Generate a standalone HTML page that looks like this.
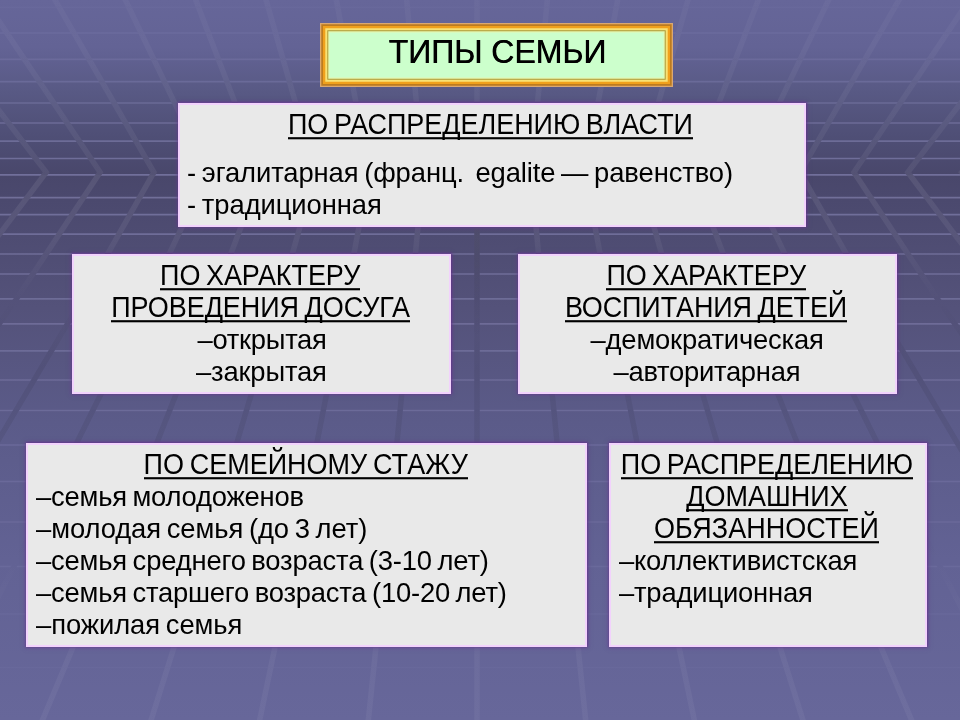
<!DOCTYPE html>
<html lang="ru">
<head>
<meta charset="utf-8">
<title>ТИПЫ СЕМЬИ</title>
<style>
html,body{margin:0;padding:0;}
body{width:960px;height:720px;overflow:hidden;background:#5a598a;position:relative;font-family:"Liberation Sans",sans-serif;}
.bg{position:absolute;left:0;top:0;display:block;}
.box{position:absolute;box-sizing:border-box;background:#e9e9e9;border:2.5px solid #f2d2fd;box-shadow:0 -1px 2px 0.5px rgba(100,50,140,.7),0 0 4px 1px rgba(110,60,150,.5);}
.title{position:absolute;box-sizing:border-box;background:#ccffcc;box-shadow:inset 0 0 0 1.3px #dba870, inset 0 0 0 3px #bd7b1e, inset 0 0 0 5.3px #f0a01c, inset 0 0 0 7.3px #f8e174, inset 0 0 0 8.3px #a89a3c, inset 0 0 0 9.5px #e6f8b0;}
.t{position:absolute;white-space:pre;font-size:27.0px;line-height:32px;color:#000;}
.txt{position:absolute;left:0;top:0;width:960px;height:720px;will-change:transform;}
.tt{text-shadow:0.5px 0 0 #000;}
.ul{position:absolute;left:0;background:#000;display:block;}
</style>
</head>
<body>
<svg class="bg" width="960" height="720" viewBox="0 0 960 720">
<defs>
<linearGradient id="g" gradientUnits="userSpaceOnUse" x1="0" y1="0" x2="0" y2="720">
<stop offset="0.0000" stop-color="#666699"/>
<stop offset="0.0653" stop-color="#636395"/>
<stop offset="0.1278" stop-color="#585984"/>
<stop offset="0.1875" stop-color="#4f4f76"/>
<stop offset="0.2431" stop-color="#49476b"/>
<stop offset="0.2778" stop-color="#4b496e"/>
<stop offset="0.4278" stop-color="#54527a"/>
<stop offset="0.5861" stop-color="#5b5b89"/>
<stop offset="0.7778" stop-color="#626294"/>
<stop offset="1.0000" stop-color="#67679a"/>
</linearGradient>
</defs>
<rect width="960" height="720" fill="url(#g)"/>
<line x1="0" y1="158.5" x2="960" y2="158.5" stroke="#8f8dbd" stroke-opacity="0.533" stroke-width="1.7"/>
<line x1="0" y1="141.2" x2="960" y2="141.2" stroke="#8f8dbd" stroke-opacity="0.483" stroke-width="1.7"/>
<line x1="0" y1="123.0" x2="960" y2="123.0" stroke="#8f8dbd" stroke-opacity="0.430" stroke-width="1.7"/>
<line x1="0" y1="103.0" x2="960" y2="103.0" stroke="#8f8dbd" stroke-opacity="0.372" stroke-width="1.7"/>
<line x1="0" y1="81.7" x2="960" y2="81.7" stroke="#8f8dbd" stroke-opacity="0.310" stroke-width="1.7"/>
<line x1="0" y1="59.4" x2="960" y2="59.4" stroke="#8f8dbd" stroke-opacity="0.245" stroke-width="1.7"/>
<line x1="0" y1="33.0" x2="960" y2="33.0" stroke="#8f8dbd" stroke-opacity="0.169" stroke-width="1.7"/>
<line x1="0" y1="7.3" x2="960" y2="7.3" stroke="#8f8dbd" stroke-opacity="0.094" stroke-width="1.7"/>
<line x1="0" y1="174.8" x2="960" y2="174.8" stroke="#8f8dbd" stroke-opacity="0.580" stroke-width="1.7"/>
<line x1="0" y1="197.6" x2="960" y2="197.6" stroke="#8f8dbd" stroke-opacity="0.556" stroke-width="1.7"/>
<line x1="0" y1="214.6" x2="960" y2="214.6" stroke="#8f8dbd" stroke-opacity="0.538" stroke-width="1.7"/>
<line x1="0" y1="234.2" x2="960" y2="234.2" stroke="#8f8dbd" stroke-opacity="0.518" stroke-width="1.7"/>
<line x1="0" y1="254.0" x2="960" y2="254.0" stroke="#8f8dbd" stroke-opacity="0.497" stroke-width="1.7"/>
<line x1="0" y1="274.0" x2="960" y2="274.0" stroke="#8f8dbd" stroke-opacity="0.476" stroke-width="1.7"/>
<line x1="0" y1="298.9" x2="960" y2="298.9" stroke="#8f8dbd" stroke-opacity="0.450" stroke-width="1.7"/>
<line x1="0" y1="323.9" x2="960" y2="323.9" stroke="#8f8dbd" stroke-opacity="0.423" stroke-width="1.7"/>
<line x1="0" y1="350.8" x2="960" y2="350.8" stroke="#8f8dbd" stroke-opacity="0.395" stroke-width="1.7"/>
<line x1="0" y1="380.0" x2="960" y2="380.0" stroke="#8f8dbd" stroke-opacity="0.365" stroke-width="1.7"/>
<line x1="0" y1="410.5" x2="960" y2="410.5" stroke="#8f8dbd" stroke-opacity="0.333" stroke-width="1.7"/>
<line x1="0" y1="445.0" x2="960" y2="445.0" stroke="#8f8dbd" stroke-opacity="0.296" stroke-width="1.7"/>
<line x1="0" y1="481.5" x2="960" y2="481.5" stroke="#8f8dbd" stroke-opacity="0.258" stroke-width="1.7"/>
<line x1="0" y1="522.0" x2="960" y2="522.0" stroke="#8f8dbd" stroke-opacity="0.215" stroke-width="1.7"/>
<line x1="0" y1="566.5" x2="960" y2="566.5" stroke="#8f8dbd" stroke-opacity="0.169" stroke-width="1.7"/>
<line x1="0" y1="614.0" x2="960" y2="614.0" stroke="#8f8dbd" stroke-opacity="0.119" stroke-width="1.7"/>
<line x1="0" y1="667.5" x2="960" y2="667.5" stroke="#8f8dbd" stroke-opacity="0.080" stroke-width="1.7"/>
<clipPath id="cu"><rect x="0" y="0" width="960" height="174.8"/></clipPath><clipPath id="cd"><rect x="0" y="174.8" width="960" height="545.2"/></clipPath>
<g stroke="url(#g)" stroke-width="5.5" fill="none" stroke-linejoin="miter"><polyline points="-520.9,-10 -276.9,172.3 -445.6,300 -653.5,450 -867.7,600 -1058.5,730"/><polyline points="-449.6,-10 -223.1,172.3 -379.7,300 -572.8,450 -771.7,600 -948.8,730"/><polyline points="-378.3,-10 -169.2,172.3 -313.8,300 -492.0,450 -675.6,600 -839.1,730"/><polyline points="-307.1,-10 -115.4,172.3 -247.9,300 -411.3,450 -579.6,600 -729.4,730"/><polyline points="-235.8,-10 -61.5,172.3 -182.0,300 -330.5,450 -483.5,600 -619.8,730"/><polyline points="-164.5,-10 -7.7,172.3 -116.1,300 -249.8,450 -387.5,600 -510.1,730"/><polyline points="-93.2,-10 46.2,172.3 -50.2,300 -169.0,450 -291.4,600 -400.4,730"/><polyline points="-21.9,-10 100.1,172.3 15.7,300 -88.3,450 -195.4,600 -290.7,730"/><polyline points="49.3,-10 153.9,172.3 81.6,300 -7.5,450 -99.3,600 -181.1,730"/><polyline points="120.6,-10 207.8,172.3 147.5,300 73.2,450 -3.3,600 -71.4,730"/><polyline points="191.9,-10 261.6,172.3 213.4,300 154.0,450 92.8,600 38.3,730"/><polyline points="263.2,-10 315.4,172.3 279.3,300 234.7,450 188.8,600 148.0,730"/><polyline points="334.4,-10 369.3,172.3 345.2,300 315.5,450 284.9,600 257.6,730"/><polyline points="405.7,-10 423.1,172.3 411.1,300 396.2,450 380.9,600 367.3,730"/><polyline points="477.0,-10 477.0,172.3 477.0,300 477.0,450 477.0,600 477.0,730"/><polyline points="548.3,-10 530.9,172.3 542.9,300 557.8,450 573.1,600 586.7,730"/><polyline points="619.6,-10 584.7,172.3 608.8,300 638.5,450 669.1,600 696.4,730"/><polyline points="690.8,-10 638.5,172.3 674.7,300 719.3,450 765.2,600 806.0,730"/><polyline points="762.1,-10 692.4,172.3 740.6,300 800.0,450 861.2,600 915.7,730"/><polyline points="833.4,-10 746.2,172.3 806.5,300 880.8,450 957.3,600 1025.4,730"/><polyline points="904.7,-10 800.1,172.3 872.4,300 961.5,450 1053.3,600 1135.1,730"/><polyline points="975.9,-10 854.0,172.3 938.3,300 1042.3,450 1149.4,600 1244.7,730"/><polyline points="1047.2,-10 907.8,172.3 1004.2,300 1123.0,450 1245.4,600 1354.4,730"/><polyline points="1118.5,-10 961.7,172.3 1070.1,300 1203.8,450 1341.5,600 1464.1,730"/><polyline points="1189.8,-10 1015.5,172.3 1136.0,300 1284.5,450 1437.5,600 1573.8,730"/><polyline points="1261.1,-10 1069.3,172.3 1201.9,300 1365.3,450 1533.6,600 1683.4,730"/><polyline points="1332.3,-10 1123.2,172.3 1267.8,300 1446.0,450 1629.6,600 1793.1,730"/><polyline points="1403.6,-10 1177.1,172.3 1333.7,300 1526.8,450 1725.7,600 1902.8,730"/><polyline points="1474.9,-10 1230.9,172.3 1399.6,300 1607.5,450 1821.7,600 2012.5,730"/></g>
<linearGradient id="bu" gradientUnits="userSpaceOnUse" x1="0" y1="0" x2="0" y2="174.8"><stop offset="0" stop-color="#fff" stop-opacity="0.03"/><stop offset="0.45" stop-color="#fff" stop-opacity="0.045"/><stop offset="1" stop-color="#fff" stop-opacity="0.06"/></linearGradient>
<linearGradient id="bd" gradientUnits="userSpaceOnUse" x1="0" y1="174.8" x2="0" y2="720"><stop offset="0.0000" stop-color="#fff" stop-opacity="0.08"/><stop offset="0.1104" stop-color="#fff" stop-opacity="0.06"/><stop offset="0.2296" stop-color="#fff" stop-opacity="0.0"/><stop offset="0.2298" stop-color="#000" stop-opacity="0.0"/><stop offset="0.3580" stop-color="#000" stop-opacity="0.07"/><stop offset="0.5048" stop-color="#000" stop-opacity="0.07"/><stop offset="0.7065" stop-color="#000" stop-opacity="0.0"/><stop offset="0.7067" stop-color="#fff" stop-opacity="0.0"/><stop offset="0.8899" stop-color="#fff" stop-opacity="0.045"/><stop offset="1.0000" stop-color="#fff" stop-opacity="0.045"/></linearGradient>
<g clip-path="url(#cu)"><g stroke="url(#bu)" stroke-width="5.5" fill="none" stroke-linejoin="miter"><polyline points="-520.9,-10 -276.9,172.3 -445.6,300 -653.5,450 -867.7,600 -1058.5,730"/><polyline points="-449.6,-10 -223.1,172.3 -379.7,300 -572.8,450 -771.7,600 -948.8,730"/><polyline points="-378.3,-10 -169.2,172.3 -313.8,300 -492.0,450 -675.6,600 -839.1,730"/><polyline points="-307.1,-10 -115.4,172.3 -247.9,300 -411.3,450 -579.6,600 -729.4,730"/><polyline points="-235.8,-10 -61.5,172.3 -182.0,300 -330.5,450 -483.5,600 -619.8,730"/><polyline points="-164.5,-10 -7.7,172.3 -116.1,300 -249.8,450 -387.5,600 -510.1,730"/><polyline points="-93.2,-10 46.2,172.3 -50.2,300 -169.0,450 -291.4,600 -400.4,730"/><polyline points="-21.9,-10 100.1,172.3 15.7,300 -88.3,450 -195.4,600 -290.7,730"/><polyline points="49.3,-10 153.9,172.3 81.6,300 -7.5,450 -99.3,600 -181.1,730"/><polyline points="120.6,-10 207.8,172.3 147.5,300 73.2,450 -3.3,600 -71.4,730"/><polyline points="191.9,-10 261.6,172.3 213.4,300 154.0,450 92.8,600 38.3,730"/><polyline points="263.2,-10 315.4,172.3 279.3,300 234.7,450 188.8,600 148.0,730"/><polyline points="334.4,-10 369.3,172.3 345.2,300 315.5,450 284.9,600 257.6,730"/><polyline points="405.7,-10 423.1,172.3 411.1,300 396.2,450 380.9,600 367.3,730"/><polyline points="477.0,-10 477.0,172.3 477.0,300 477.0,450 477.0,600 477.0,730"/><polyline points="548.3,-10 530.9,172.3 542.9,300 557.8,450 573.1,600 586.7,730"/><polyline points="619.6,-10 584.7,172.3 608.8,300 638.5,450 669.1,600 696.4,730"/><polyline points="690.8,-10 638.5,172.3 674.7,300 719.3,450 765.2,600 806.0,730"/><polyline points="762.1,-10 692.4,172.3 740.6,300 800.0,450 861.2,600 915.7,730"/><polyline points="833.4,-10 746.2,172.3 806.5,300 880.8,450 957.3,600 1025.4,730"/><polyline points="904.7,-10 800.1,172.3 872.4,300 961.5,450 1053.3,600 1135.1,730"/><polyline points="975.9,-10 854.0,172.3 938.3,300 1042.3,450 1149.4,600 1244.7,730"/><polyline points="1047.2,-10 907.8,172.3 1004.2,300 1123.0,450 1245.4,600 1354.4,730"/><polyline points="1118.5,-10 961.7,172.3 1070.1,300 1203.8,450 1341.5,600 1464.1,730"/><polyline points="1189.8,-10 1015.5,172.3 1136.0,300 1284.5,450 1437.5,600 1573.8,730"/><polyline points="1261.1,-10 1069.3,172.3 1201.9,300 1365.3,450 1533.6,600 1683.4,730"/><polyline points="1332.3,-10 1123.2,172.3 1267.8,300 1446.0,450 1629.6,600 1793.1,730"/><polyline points="1403.6,-10 1177.1,172.3 1333.7,300 1526.8,450 1725.7,600 1902.8,730"/><polyline points="1474.9,-10 1230.9,172.3 1399.6,300 1607.5,450 1821.7,600 2012.5,730"/></g></g>
<g clip-path="url(#cd)"><g stroke="url(#bd)" stroke-width="5.5" fill="none" stroke-linejoin="miter"><polyline points="-520.9,-10 -276.9,172.3 -445.6,300 -653.5,450 -867.7,600 -1058.5,730"/><polyline points="-449.6,-10 -223.1,172.3 -379.7,300 -572.8,450 -771.7,600 -948.8,730"/><polyline points="-378.3,-10 -169.2,172.3 -313.8,300 -492.0,450 -675.6,600 -839.1,730"/><polyline points="-307.1,-10 -115.4,172.3 -247.9,300 -411.3,450 -579.6,600 -729.4,730"/><polyline points="-235.8,-10 -61.5,172.3 -182.0,300 -330.5,450 -483.5,600 -619.8,730"/><polyline points="-164.5,-10 -7.7,172.3 -116.1,300 -249.8,450 -387.5,600 -510.1,730"/><polyline points="-93.2,-10 46.2,172.3 -50.2,300 -169.0,450 -291.4,600 -400.4,730"/><polyline points="-21.9,-10 100.1,172.3 15.7,300 -88.3,450 -195.4,600 -290.7,730"/><polyline points="49.3,-10 153.9,172.3 81.6,300 -7.5,450 -99.3,600 -181.1,730"/><polyline points="120.6,-10 207.8,172.3 147.5,300 73.2,450 -3.3,600 -71.4,730"/><polyline points="191.9,-10 261.6,172.3 213.4,300 154.0,450 92.8,600 38.3,730"/><polyline points="263.2,-10 315.4,172.3 279.3,300 234.7,450 188.8,600 148.0,730"/><polyline points="334.4,-10 369.3,172.3 345.2,300 315.5,450 284.9,600 257.6,730"/><polyline points="405.7,-10 423.1,172.3 411.1,300 396.2,450 380.9,600 367.3,730"/><polyline points="477.0,-10 477.0,172.3 477.0,300 477.0,450 477.0,600 477.0,730"/><polyline points="548.3,-10 530.9,172.3 542.9,300 557.8,450 573.1,600 586.7,730"/><polyline points="619.6,-10 584.7,172.3 608.8,300 638.5,450 669.1,600 696.4,730"/><polyline points="690.8,-10 638.5,172.3 674.7,300 719.3,450 765.2,600 806.0,730"/><polyline points="762.1,-10 692.4,172.3 740.6,300 800.0,450 861.2,600 915.7,730"/><polyline points="833.4,-10 746.2,172.3 806.5,300 880.8,450 957.3,600 1025.4,730"/><polyline points="904.7,-10 800.1,172.3 872.4,300 961.5,450 1053.3,600 1135.1,730"/><polyline points="975.9,-10 854.0,172.3 938.3,300 1042.3,450 1149.4,600 1244.7,730"/><polyline points="1047.2,-10 907.8,172.3 1004.2,300 1123.0,450 1245.4,600 1354.4,730"/><polyline points="1118.5,-10 961.7,172.3 1070.1,300 1203.8,450 1341.5,600 1464.1,730"/><polyline points="1189.8,-10 1015.5,172.3 1136.0,300 1284.5,450 1437.5,600 1573.8,730"/><polyline points="1261.1,-10 1069.3,172.3 1201.9,300 1365.3,450 1533.6,600 1683.4,730"/><polyline points="1332.3,-10 1123.2,172.3 1267.8,300 1446.0,450 1629.6,600 1793.1,730"/><polyline points="1403.6,-10 1177.1,172.3 1333.7,300 1526.8,450 1725.7,600 1902.8,730"/><polyline points="1474.9,-10 1230.9,172.3 1399.6,300 1607.5,450 1821.7,600 2012.5,730"/></g></g>
<linearGradient id="bc" gradientUnits="userSpaceOnUse" x1="0" y1="174.8" x2="0" y2="720"><stop offset="0" stop-color="#000" stop-opacity="0.12"/><stop offset="0.15" stop-color="#000" stop-opacity="0.11"/><stop offset="0.3" stop-color="#000" stop-opacity="0"/></linearGradient>
<path d="M477.0 174.8L477.01 720" stroke="url(#bc)" stroke-width="5.5" fill="none"/>
</svg>
<div class="box" style="left:178px;top:103px;width:628px;height:124px"></div>
<div class="box" style="left:72px;top:254px;width:379px;height:140px"></div>
<div class="box" style="left:518px;top:254px;width:379px;height:140px"></div>
<div class="box" style="left:26px;top:443px;width:561px;height:204px"></div>
<div class="box" style="left:609px;top:443px;width:318px;height:204px"></div>
<div class="txt">
<div class="title" style="left:320px;top:23px;width:353px;height:64px"></div>
<div class="t tt" style="left:388.56px;top:35.91px;word-spacing:-0.195px;transform:scaleY(1.05);transform-origin:0 27.09px;font-size:32px;">ТИПЫ СЕМЬИ</div>
<div class="t" style="left:288.00px;top:109.14px;word-spacing:-1.800px;letter-spacing:-0.040px;transform:scaleY(1.066);transform-origin:0 25.36px;">ПО РАСПРЕДЕЛЕНИЮ ВЛАСТИ<i class="ul" style="top:28.03px;height:1.88px;width:405.00px"></i></div>
<div class="t" style="left:187.10px;top:156.51px;word-spacing:-1.800px;letter-spacing:-0.103px;transform:scaleY(1.04);transform-origin:0 25.49px;font-size:27.4px;">- эгалитарная (франц.  egalite — равенство)</div>
<div class="t" style="left:187.10px;top:188.51px;word-spacing:-1.800px;letter-spacing:-0.080px;transform:scaleY(1.04);transform-origin:0 25.49px;font-size:27.4px;">- традиционная</div>
<div class="t" style="left:160.10px;top:260.14px;word-spacing:-1.800px;letter-spacing:-0.082px;transform:scaleY(1.066);transform-origin:0 25.36px;">ПО ХАРАКТЕРУ<i class="ul" style="top:28.03px;height:1.88px;width:200.20px"></i></div>
<div class="t" style="left:111.20px;top:292.14px;word-spacing:-1.800px;letter-spacing:-0.079px;transform:scaleY(1.066);transform-origin:0 25.36px;">ПРОВЕДЕНИЯ ДОСУГА<i class="ul" style="top:28.03px;height:1.88px;width:298.80px"></i></div>
<div class="t" style="left:197.46px;top:324.01px;letter-spacing:-0.269px;transform:scaleY(1.04);transform-origin:0 25.49px;font-size:27.4px;">–открытая</div>
<div class="t" style="left:196.02px;top:356.01px;letter-spacing:-0.171px;transform:scaleY(1.04);transform-origin:0 25.49px;font-size:27.4px;">–закрытая</div>
<div class="t" style="left:606.40px;top:260.14px;word-spacing:-1.800px;letter-spacing:-0.125px;transform:scaleY(1.066);transform-origin:0 25.36px;">ПО ХАРАКТЕРУ<i class="ul" style="top:28.03px;height:1.88px;width:199.70px"></i></div>
<div class="t" style="left:564.90px;top:292.14px;word-spacing:-1.800px;letter-spacing:-0.138px;transform:scaleY(1.066);transform-origin:0 25.36px;">ВОСПИТАНИЯ ДЕТЕЙ<i class="ul" style="top:28.03px;height:1.88px;width:282.20px"></i></div>
<div class="t" style="left:590.48px;top:324.01px;letter-spacing:-0.180px;transform:scaleY(1.04);transform-origin:0 25.49px;font-size:27.4px;">–демократическая</div>
<div class="t" style="left:613.48px;top:356.01px;letter-spacing:-0.277px;transform:scaleY(1.04);transform-origin:0 25.49px;font-size:27.4px;">–авторитарная</div>
<div class="t" style="left:143.60px;top:449.14px;word-spacing:-1.800px;transform:scaleY(1.066);transform-origin:0 25.36px;">ПО СЕМЕЙНОМУ СТАЖУ<i class="ul" style="top:28.03px;height:1.88px;width:324.20px"></i></div>
<div class="t" style="left:36.00px;top:481.01px;word-spacing:-1.800px;letter-spacing:-0.217px;transform:scaleY(1.04);transform-origin:0 25.49px;font-size:27.4px;">–семья молодоженов</div>
<div class="t" style="left:36.00px;top:513.01px;word-spacing:-1.800px;letter-spacing:-0.083px;transform:scaleY(1.04);transform-origin:0 25.49px;font-size:27.4px;">–молодая семья (до 3 лет)</div>
<div class="t" style="left:36.00px;top:545.01px;word-spacing:-1.800px;letter-spacing:-0.183px;transform:scaleY(1.04);transform-origin:0 25.49px;font-size:27.4px;">–семья среднего возраста (3-10 лет)</div>
<div class="t" style="left:36.00px;top:577.01px;word-spacing:-1.800px;letter-spacing:-0.205px;transform:scaleY(1.04);transform-origin:0 25.49px;font-size:27.4px;">–семья старшего возраста (10-20 лет)</div>
<div class="t" style="left:36.00px;top:609.01px;word-spacing:-1.800px;letter-spacing:-0.079px;transform:scaleY(1.04);transform-origin:0 25.49px;font-size:27.4px;">–пожилая семья</div>
<div class="t" style="left:620.80px;top:449.14px;word-spacing:-1.800px;letter-spacing:-0.049px;transform:scaleY(1.066);transform-origin:0 25.36px;">ПО РАСПРЕДЕЛЕНИЮ<i class="ul" style="top:28.03px;height:1.88px;width:292.10px"></i></div>
<div class="t" style="left:686.20px;top:481.14px;letter-spacing:0.020px;transform:scaleY(1.066);transform-origin:0 25.36px;">ДОМАШНИХ<i class="ul" style="top:28.03px;height:1.88px;width:161.60px"></i></div>
<div class="t" style="left:653.90px;top:513.14px;letter-spacing:0.022px;transform:scaleY(1.066);transform-origin:0 25.36px;">ОБЯЗАННОСТЕЙ<i class="ul" style="top:28.03px;height:1.88px;width:225.00px"></i></div>
<div class="t" style="left:618.94px;top:545.01px;letter-spacing:-0.198px;transform:scaleY(1.04);transform-origin:0 25.49px;font-size:27.4px;">–коллективистская</div>
<div class="t" style="left:618.94px;top:577.01px;letter-spacing:-0.179px;transform:scaleY(1.04);transform-origin:0 25.49px;font-size:27.4px;">–традиционная</div>
</div>
</body>
</html>
